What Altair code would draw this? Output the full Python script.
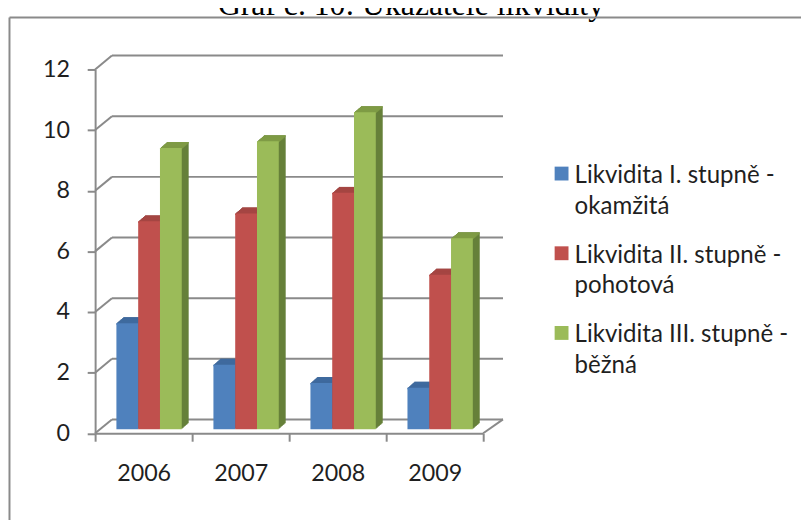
import altair as alt
import pandas as pd

years = ["2006", "2007", "2008", "2009"]
series = ["Likvidita I. stupně - okamžitá", "Likvidita II. stupně - pohotová", "Likvidita III. stupně - běžná"]
lik1 = [3.5, 2.13, 1.53, 1.37]
lik2 = [6.86, 7.12, 7.8, 5.1]
lik3 = [9.28, 9.5, 10.46, 6.3]
front_colors = ["#4f81bd", "#c0504d", "#9bbb59"]
side_colors = ["#3b6291", "#8f3d3a", "#66803a"]
top_colors = ["#3f6a9e", "#a54643", "#7f9b45"]
grid_values = [0, 2, 4, 6, 8, 10, 12]
GRAY = "#8a8a8a"
DARK = "#1f1f1f"
W, H = 392, 367.5
DEPTH = 14 / H * 12
BAR = 22 / 98
GAP = 16.5 / 98
LABEL_DY = -9.5

rows = []
for si, (name, vals) in enumerate(zip(series, [lik1, lik2, lik3])):
    for yi, v in enumerate(vals):
        x0 = yi + GAP + si * BAR
        rows.append({"x0": x0, "x1": x0 + BAR, "series": name, "v": v, "v2": v - 0.05})
df = pd.DataFrame(rows)
grid_df = pd.DataFrame({"v": grid_values, "g2": [g + DEPTH for g in grid_values]})
one = alt.Data(values=[{"a": 1}])

year_label = "{'0.5':'%s','1.5':'%s','2.5':'%s','3.5':'%s'}[toString(datum.value)] || ''" % tuple(years)
x_axis = alt.Axis(values=[0, 0.5, 1, 1.5, 2, 2.5, 3, 3.5, 4], labelExpr=year_label, labelAngle=0, labelFlush=False,
                  labelOverlap=False, domainColor=GRAY, domainWidth=2, tickColor=GRAY, tickWidth=2, tickSize=8,
                  tickOpacity={"condition": {"test": "datum.value % 1 != 0", "value": 0}, "value": 1},
                  labelFont="Lato", labelFontSize=23.5, labelColor=DARK, labelPadding=30, grid=False)
y_axis = alt.Axis(values=grid_values, grid=False, domainColor=GRAY, domainWidth=2, tickColor=GRAY, tickWidth=2,
                  tickSize=8, labelFont="Lato", labelFontSize=23.5, labelColor=DARK, labelPadding=18,
                  labelOffset=-LABEL_DY)
xs = alt.X("x0:Q", title=None, scale=alt.Scale(domain=[0, 4], nice=False, zero=False), axis=x_axis)
ys = alt.Y("v:Q", title=None, scale=alt.Scale(domain=[0, 12], nice=False), axis=y_axis)


def col(range_, legend=None):
    return alt.Color("series:N", sort=series, scale=alt.Scale(domain=series, range=range_), legend=legend)


layers = []
layers.append(alt.Chart(grid_df).mark_rule(color=GRAY, strokeWidth=2, yOffset=-14).encode(
    x=alt.value(17), x2=alt.value(412), y=ys))
layers.append(alt.Chart(grid_df).mark_rule(color=GRAY, strokeWidth=2).encode(
    x=alt.value(0), x2=alt.value(17), y=ys, y2="g2:Q"))
layers.append(alt.Chart(grid_df[grid_df.v == 0]).mark_rule(color=GRAY, strokeWidth=2).encode(
    x=alt.value(392), x2=alt.value(412), y=ys, y2="g2:Q"))

for k in range(7, 0, -1):
    dx, dy = 5 + k, -4 - 0.86 * k
    layers.append(alt.Chart(df).mark_bar(xOffset=dx, x2Offset=dx, yOffset=dy, y2Offset=dy).encode(
        x=xs, x2="x1:Q", y=ys, y2=alt.datum(0), color=col(side_colors, None)))
for k in range(0, 8):
    dx, dy = 5 + k, -4 - 0.86 * k
    layers.append(alt.Chart(df).mark_bar(xOffset=dx, x2Offset=dx, yOffset=dy, y2Offset=dy).encode(
        x=xs, x2="x1:Q", y=ys, y2="v2:Q", color=col(top_colors, None)))

legend = alt.Legend(title=None, orient="none", legendX=459, legendY=93, symbolType="square", symbolSize=196,
                    symbolStrokeWidth=0, labelFont="Lato", labelFontSize=24.3, labelColor=DARK, labelLimit=300,
                    labelExpr="[slice(datum.label, 0, indexof(datum.label, ' - ') + 2), slice(datum.label, indexof(datum.label, ' - ') + 3)]",
                    labelBaseline="top", labelOffset=1, rowPadding=22.5, symbolOpacity=1)
layers.append(alt.Chart(df).mark_bar(xOffset=5, x2Offset=5, yOffset=-4, y2Offset=-4).encode(
    x=xs, x2="x1:Q", y=ys, y2=alt.datum(0), color=col(front_colors, legend)))

layers.append(alt.Chart(one).mark_text(text="Graf č. 10: Ukazatele likvidity", font="Liberation Serif", fontSize=32,
                                       color="#000000", align="center", baseline="alphabetic").encode(
    x=alt.value(319), y=alt.value(-55.5)))
# chart frame (cut off by the right and bottom edge in the reference)
layers.append(alt.Chart(one).mark_rule(color=GRAY, strokeWidth=2).encode(
    x=alt.value(-86.5), y=alt.value(-52.5), y2=alt.value(460)))
layers.append(alt.Chart(one).mark_rule(color=GRAY, strokeWidth=2).encode(
    x=alt.value(-86.5), x2=alt.value(713), y=alt.value(-52.5)))

chart = (alt.layer(*layers)
         .resolve_scale(color="independent")
         .properties(width=W, height=H, padding={"left": 88, "top": 59.5, "right": 321, "bottom": 85},
                     autosize=alt.AutoSizeParams(type="none"))
         .configure(view=alt.ViewConfig(stroke=None), style={"guide-label": {"lineHeight": 31, "dy": LABEL_DY}})
         )
chart.save("out.html", embed_options={"renderer": "svg", "actions": False})
